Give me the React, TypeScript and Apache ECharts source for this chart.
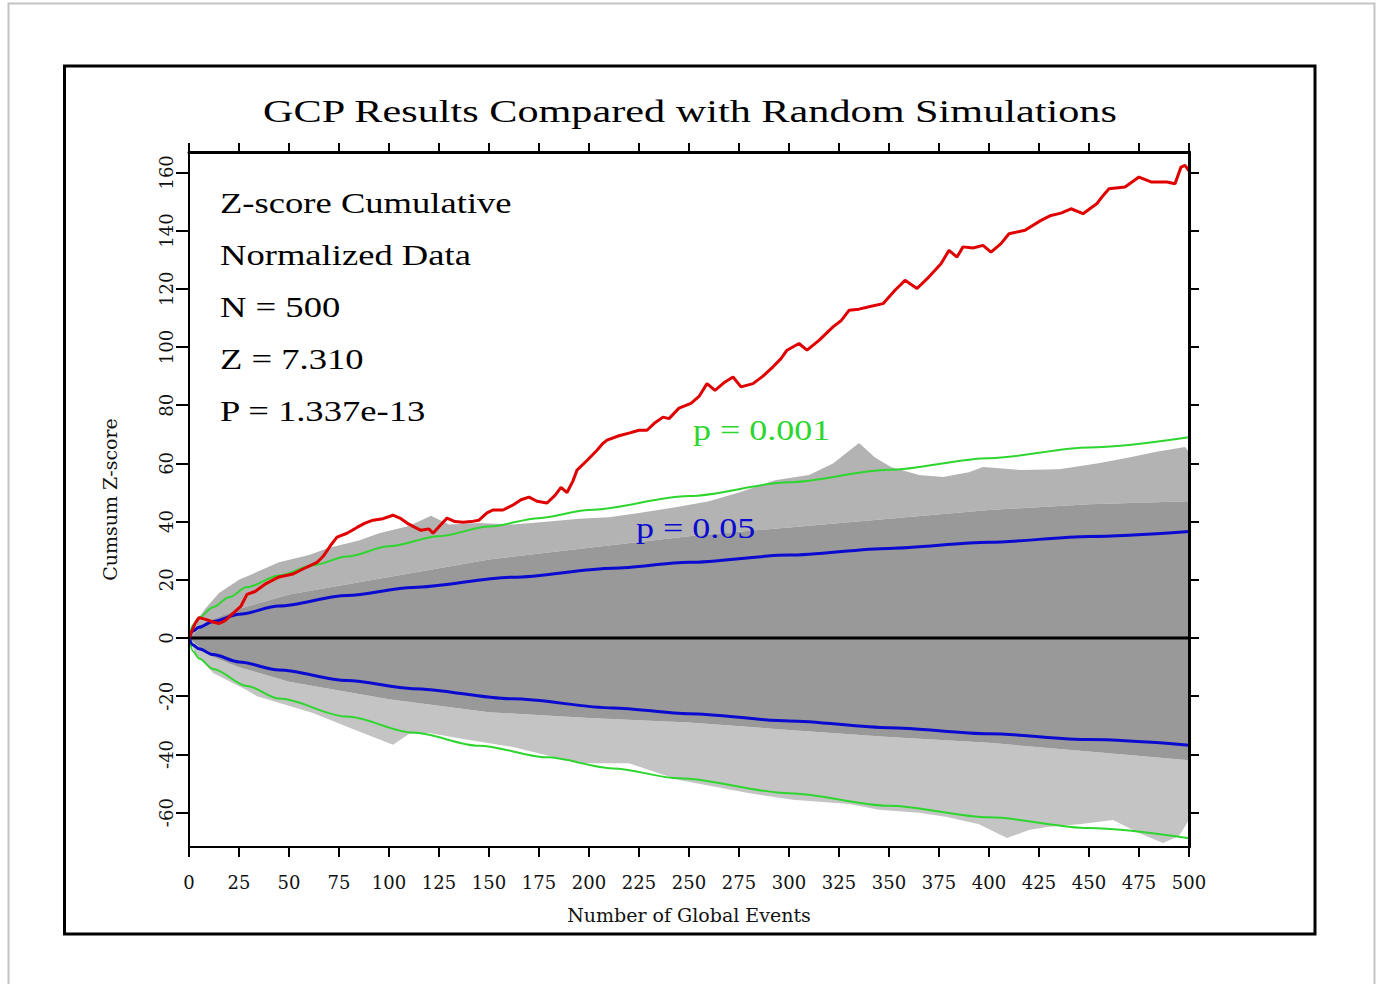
import React, { useEffect, useRef } from "react";
import * as echarts from "echarts";

// ---------- data ----------
const X_MIN = 0;
const X_MAX = 500;
const Y_MIN = -71.8;
const Y_MAX = 167;
const Y_TICKS = [-60, -40, -20, 0, 20, 40, 60, 80, 100, 120, 140, 160];

const TITLE = "GCP Results Compared with Random Simulations";
const INFO_LINES = ["Z-score Cumulative", "Normalized Data", "N = 500", "Z = 7.310", "P = 1.337e-13"];

// GCP cumulative z-score (red)
const RED_N = [0, 3, 5, 8, 12, 15, 18, 22, 26, 29, 33, 38, 45, 52, 59, 64, 67, 71, 74, 79, 84, 88, 92, 97, 102, 106, 109, 113, 116, 120, 122, 126, 129, 133, 137, 141, 145, 149, 152, 157, 162, 166, 170, 174, 179, 183, 186, 189, 192, 194, 199, 204, 207, 209, 215, 220, 225, 229, 233, 237, 240, 245, 251, 255, 259, 263, 268, 272, 276, 282, 287, 292, 296, 299, 305, 309, 315, 322, 326, 330, 335, 340, 347, 353, 358, 364, 370, 376, 380, 384, 387, 392, 397, 401, 406, 410, 418, 426, 431, 436, 441, 447, 454, 457, 460, 468, 475, 481, 489, 493, 496, 498, 500];
const RED_V = [0, 5, 7, 6.5, 5.5, 5, 6, 8.5, 11, 15, 16, 18.5, 21, 22, 24.4, 26, 28, 32, 34.7, 36, 38, 39.5, 40.5, 41, 42.2, 41, 39.5, 38, 37, 37.5, 36, 39, 41.2, 40, 39.8, 40, 40.5, 43, 44, 44, 45.7, 47.5, 48.4, 47, 46.4, 49, 51.8, 50, 54, 57.7, 61, 64.5, 66.9, 68, 69.5, 70.4, 71.4, 71.4, 74, 75.9, 75.4, 79, 80.6, 83, 87.4, 85.1, 88, 89.7, 86.3, 87.4, 90, 93.2, 96, 98.9, 101.2, 98.9, 102.3, 106.9, 109, 112.6, 113, 113.8, 114.9, 119.5, 122.9, 120.1, 124.1, 128.6, 133.2, 130.9, 134.4, 134, 134.9, 132.6, 135.5, 138.9, 140.1, 143.5, 145.2, 146, 147.5, 145.8, 149.3, 152, 154.4, 155, 158.4, 156.7, 156.7, 156.1, 161.8, 162.4, 160.5];

// p = 0.001 envelopes (green)
const GREEN_UP_N = [0, 2, 5, 12, 20, 29, 45, 62, 79, 100, 125, 150, 175, 200, 250, 300, 350, 400, 450, 500];
const GREEN_UP_V = [0, 4.5, 7, 10.6, 14, 17.5, 21.5, 25, 28, 31.5, 35, 38.3, 41.2, 44, 48.8, 53.5, 57.8, 61.8, 65.5, 69];
const GREEN_LO_N = [0, 2, 5, 12, 29, 45, 79, 112, 145, 179, 212, 245, 300, 350, 400, 450, 500];
const GREEN_LO_V = [0, -4.5, -7, -10.6, -16.5, -20.8, -27, -32.5, -37, -41, -44.8, -48.2, -53.3, -57.6, -61.6, -65.3, -68.8];

// p = 0.05 envelopes (blue)
const BLUE_UP_N = [0, 2, 5, 12, 25, 45, 79, 112, 162, 212, 250, 300, 350, 400, 450, 500];
const BLUE_UP_V = [0, 2.4, 3.7, 5.7, 8.2, 11, 14.6, 17.4, 20.9, 24, 26, 28.5, 30.8, 32.9, 34.9, 36.6];
const BLUE_LO_N = [0, 2, 5, 12, 25, 45, 79, 112, 162, 212, 250, 300, 350, 400, 450, 500];
const BLUE_LO_V = [0, -2.4, -3.7, -5.7, -8.2, -11, -14.6, -17.4, -20.9, -24, -26, -28.5, -30.8, -32.9, -34.9, -36.8];

// random simulations: outer envelope of the grey cloud
const SIM_OUT_UP_N = [0, 3, 8, 15, 25, 35, 45, 60, 70, 85, 95, 110, 121, 130, 145, 162, 180, 195, 210, 225, 244, 260, 275, 293, 310, 322, 335, 343, 351, 365, 377, 390, 397, 416, 435, 454, 470, 483, 498, 500];
const SIM_OUT_UP_V = [0, 5, 10, 15.5, 20, 23, 26, 28.5, 31, 33.5, 36, 38.5, 42, 39, 39.5, 39, 40, 41, 41.5, 43, 45, 47, 50, 54.2, 56, 60, 67, 62, 58.8, 56, 55.3, 57, 58.8, 57.7, 58, 60, 62, 63.9, 65.6, 64];
const SIM_OUT_LO_N = [0, 3, 12, 29, 34, 62, 79, 102, 110, 120, 140, 162, 195, 220, 245, 279, 302, 330, 345, 365, 379, 395, 409, 420, 429, 445, 462, 475, 487, 495, 500];
const SIM_OUT_LO_V = [0, -5, -12, -17.9, -20, -25.8, -30.5, -36.7, -33, -32.6, -35, -37.4, -43, -43, -48.8, -53.2, -55.6, -57, -59, -60, -61.5, -64, -68.7, -66, -64.9, -64, -62.5, -67, -70.4, -68, -62.5];
// dense core of the grey cloud
const SIM_CORE_UP_N = [0, 10, 25, 50, 100, 150, 200, 250, 300, 350, 400, 450, 500];
const SIM_CORE_UP_V = [0, 6, 10, 15, 21, 27, 31, 35, 38, 41, 44, 46, 47];
const SIM_CORE_LO_N = [0, 10, 25, 50, 100, 150, 200, 250, 300, 350, 400, 450, 500];
const SIM_CORE_LO_V = [0, -6, -10, -15, -21, -25.5, -27.5, -29, -31.6, -34, -36, -39, -42];

const ZERO_N = [0, 500];
const ZERO_V = [0, 0];

const pairs = (ns: number[], vs: number[]) => ns.map((n, i) => [n, vs[i]]);

const SERIF = '"Liberation Serif", "Times New Roman", serif';
const AXIS_FONT = '"DejaVu Serif", serif';

function bandSeries(upN: number[], upV: number[], loN: number[], loV: number[], fill: string, opacity: number, z: number) {
  return {
    type: "custom",
    coordinateSystem: "cartesian2d",
    silent: true,
    z,
    clip: true,
    data: [[0, 0]],
    renderItem: (_params: any, api: any) => {
      const pts: number[][] = [];
      upN.forEach((n, i) => pts.push(api.coord([n, upV[i]])));
      for (let i = loN.length - 1; i >= 0; i--) pts.push(api.coord([loN[i], loV[i]]));
      return { type: "polygon", shape: { points: pts }, style: { fill, opacity } };
    },
  };
}

function lineSeries(data: number[][], color: string, width: number, z: number, smooth: number | false) {
  return {
    type: "line",
    data,
    showSymbol: false,
    symbol: "none",
    silent: true,
    z,
    smooth,
    smoothMonotone: "x",
    lineStyle: { color, width },
  };
}

export default function App() {
  const ref = useRef<HTMLDivElement>(null);
  useEffect(() => {
    if (!ref.current) return;
    const chart = echarts.init(ref.current, undefined, { renderer: "svg" });
    const GREEN = "#2ed52e";
    const BLUE = "#0a0ad0";
    const RED = "#e00000";
    const option: any = {
      animation: false,
      backgroundColor: "#ffffff",
      grid: { left: 189, top: 152, width: 1000, height: 695, containLabel: false },
      xAxis: [
        {
          type: "value",
          position: "bottom",
          min: X_MIN,
          max: X_MAX,
          interval: 25,
          z: 10,
          name: "Number of Global Events",
          nameLocation: "middle",
          nameGap: 58,
          nameTextStyle: { fontFamily: AXIS_FONT, fontSize: 19, color: "#111" },
          axisLine: { show: true, onZero: false, lineStyle: { color: "#000", width: 2 } },
          axisTick: { show: true, inside: false, length: 10, lineStyle: { color: "#000", width: 2 } },
          axisLabel: { show: true, interval: 0, margin: 26, fontFamily: AXIS_FONT, fontSize: 18, color: "#111", hideOverlap: false },
          splitLine: { show: false },
        },
        {
          type: "value",
          position: "top",
          min: X_MIN,
          max: X_MAX,
          interval: 25,
          z: 10,
          axisLine: { show: true, onZero: false, lineStyle: { color: "#000", width: 3 } },
          axisTick: { show: true, inside: false, length: 9, lineStyle: { color: "#000", width: 2 } },
          axisLabel: { show: false },
          splitLine: { show: false },
        },
      ],
      yAxis: [
        {
          type: "value",
          position: "left",
          min: Y_MIN,
          max: Y_MAX,
          z: 10,
          name: "Cumsum Z-score",
          nameLocation: "middle",
          nameRotate: 90,
          nameGap: 70,
          nameTextStyle: { fontFamily: AXIS_FONT, fontSize: 19, color: "#111" },
          axisLine: { show: true, onZero: false, lineStyle: { color: "#000", width: 2 } },
          axisTick: { show: true, inside: false, length: 13, customValues: Y_TICKS, lineStyle: { color: "#000", width: 2 } },
          axisLabel: { show: true, rotate: 90, margin: 14, customValues: Y_TICKS, fontFamily: AXIS_FONT, fontSize: 18, color: "#111" },
          splitLine: { show: false },
        },
        {
          type: "value",
          position: "right",
          min: Y_MIN,
          max: Y_MAX,
          z: 10,
          axisLine: { show: true, onZero: false, lineStyle: { color: "#000", width: 3 } },
          axisTick: { show: true, inside: false, length: 10, customValues: Y_TICKS, lineStyle: { color: "#000", width: 2 } },
          axisLabel: { show: false, customValues: Y_TICKS },
          splitLine: { show: false },
        },
      ],
      series: [
        bandSeries(SIM_OUT_UP_N, SIM_OUT_UP_V, SIM_CORE_UP_N, SIM_CORE_UP_V, "#999999", 0.74, 1),
        bandSeries(SIM_CORE_LO_N, SIM_CORE_LO_V, SIM_OUT_LO_N, SIM_OUT_LO_V, "#999999", 0.58, 1),
        bandSeries(SIM_CORE_UP_N, SIM_CORE_UP_V, SIM_CORE_LO_N, SIM_CORE_LO_V, "#999999", 1, 2),
        lineSeries(pairs(ZERO_N, ZERO_V), "#000", 3, 3, false),
        lineSeries(pairs(GREEN_UP_N, GREEN_UP_V), GREEN, 2, 4, 0.3),
        lineSeries(pairs(GREEN_LO_N, GREEN_LO_V), GREEN, 2, 4, 0.3),
        lineSeries(pairs(BLUE_UP_N, BLUE_UP_V), BLUE, 3, 5, 0.3),
        lineSeries(pairs(BLUE_LO_N, BLUE_LO_V), BLUE, 3, 5, 0.3),
        lineSeries(pairs(RED_N, RED_V), RED, 3, 6, false),
      ],
      graphic: [
        { type: "rect", silent: true, z: -10, shape: { x: 8.5, y: 3.5, width: 1366, height: 990 }, style: { fill: "none", stroke: "#c4c4c4", lineWidth: 2 } },
        { type: "rect", silent: true, z: -9, shape: { x: 64.5, y: 66, width: 1250.5, height: 868 }, style: { fill: "none", stroke: "#000", lineWidth: 3 } },
        { type: "text", silent: true, x: 690, y: 111, scaleX: 1.32, style: { text: TITLE, font: `32px ${SERIF}`, fill: "#000", textAlign: "center", textVerticalAlign: "middle" } },
        ...INFO_LINES.map((t, i) => ({
          type: "text",
          silent: true,
          x: 220,
          y: 203 + i * 51.8,
          scaleX: 1.22,
          z: 20,
          style: { text: t, font: `30px ${SERIF}`, fill: "#000", textAlign: "left", textVerticalAlign: "middle" },
        })),
        { type: "text", silent: true, x: 693, y: 430, scaleX: 1.2, z: 20, style: { text: "p = 0.001", font: `30px ${SERIF}`, fill: "#2ed52e", textAlign: "left", textVerticalAlign: "middle" } },
        { type: "text", silent: true, x: 636, y: 528, scaleX: 1.2, z: 20, style: { text: "p = 0.05", font: `30px ${SERIF}`, fill: "#0a0ad0", textAlign: "left", textVerticalAlign: "middle" } },
      ],
    };
    chart.setOption(option);
    return () => chart.dispose();
  }, []);
  return <div ref={ref} style={{ position: "fixed", left: 0, top: 0, width: 1376, height: 984 }} />;
}
